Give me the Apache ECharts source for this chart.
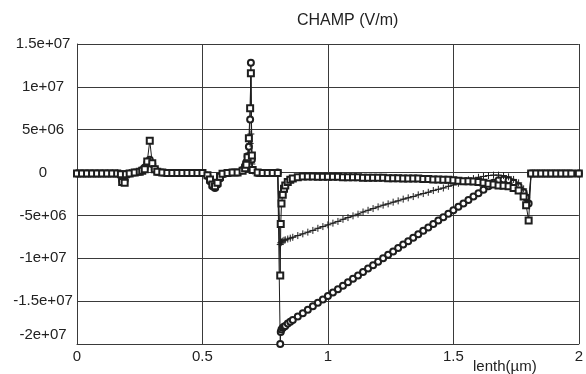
<!DOCTYPE html>
<html>
<head>
<meta charset="utf-8">
<script src="https://cdn.jsdelivr.net/npm/echarts@6/dist/echarts.min.js"></script>
<style>
  html, body { margin: 0; padding: 0; background: #ffffff; }
  #chart { width: 586px; height: 374px; }
</style>
</head>
<body>
<div id="chart"></div>
<script>
// ---- data (x in µm, field values in units of 1e6 V/m) ----
const UNIT = 1e6;
const xs = [
  0, 0.02, 0.04, 0.06, 0.08, 0.10, 0.12, 0.14, 0.16,
  0.175, 0.18, 0.19, 0.195, 0.21, 0.23, 0.25, 0.26, 0.27, 0.28, 0.29, 0.30, 0.31, 0.32, 0.34,
  0.36, 0.38, 0.40, 0.42, 0.44, 0.46, 0.48, 0.50,
  0.52, 0.53, 0.54, 0.55, 0.56, 0.57, 0.58, 0.60, 0.62, 0.64, 0.66,
  0.67, 0.675, 0.68, 0.685, 0.69, 0.693, 0.697, 0.70, 0.72, 0.74, 0.76, 0.78, 0.80,
  0.81, 0.812, 0.815, 0.82, 0.825, 0.83, 0.84, 0.85, 0.86,
  0.88, 0.90, 0.92, 0.94, 0.96, 0.98, 1.00, 1.02, 1.04, 1.06,
  1.08, 1.10, 1.12, 1.14, 1.16, 1.18, 1.20, 1.22, 1.24, 1.26,
  1.28, 1.30, 1.32, 1.34, 1.36, 1.38, 1.40, 1.42, 1.44, 1.46,
  1.48, 1.50, 1.52, 1.54, 1.56, 1.58, 1.60, 1.62, 1.64, 1.66,
  1.68, 1.70, 1.72, 1.74, 1.76, 1.78, 1.79, 1.80,
  1.81, 1.83, 1.85, 1.87, 1.89, 1.91, 1.93, 1.95, 1.97, 2.00
];
const squareVals = [
  -0.1, -0.1, -0.1, -0.1, -0.1, -0.1, -0.1, -0.1, -0.1,
  -0.2, -1.1, -1.2, -0.2, -0.1, 0, 0.1, 0.2, 0.4, 1.3, 3.7, 1.1, 0.4, 0.1, 0,
  -0.05, -0.05, -0.05, -0.05, -0.05, -0.05, -0.05, -0.05,
  -0.3, -0.8, -1.4, -1.6, -1.2, -0.5, -0.15, -0.05, 0, 0, 0.2,
  0.5, 0.9, 1.8, 4.0, 7.5, 11.6, 2.0, 0.3, 0, -0.05, -0.05, -0.05, -0.05,
  -12.0, -6.0, -3.6, -2.6, -1.9, -1.5, -1.1, -0.85, -0.7,
  -0.55, -0.45, -0.45, -0.45, -0.5, -0.5, -0.5, -0.5, -0.5, -0.55,
  -0.55, -0.55, -0.55, -0.6, -0.6, -0.6, -0.6, -0.6, -0.65, -0.65,
  -0.65, -0.7, -0.7, -0.7, -0.7, -0.75, -0.75, -0.8, -0.8, -0.85,
  -0.85, -0.9, -0.95, -1.0, -1.0, -1.05, -1.1, -1.2, -1.3, -1.4,
  -1.5, -1.55, -1.6, -1.8, -2.1, -2.8, -3.8, -5.6,
  -0.1, -0.1, -0.1, -0.1, -0.1, -0.1, -0.1, -0.1, -0.1, -0.1
];
const plusVals = [
  0, 0, 0, 0, 0, 0, 0, 0, 0,
  -0.1, -0.6, -0.6, -0.1, 0, 0, 0.1, 0.2, 0.4, 0.9, 1.2, 0.8, 0.3, 0.1, 0,
  0, 0, 0, 0, 0, 0, 0, 0,
  -0.3, -0.9, -1.5, -1.7, -1.3, -0.6, -0.2, -0.05, 0, 0, 0.2,
  0.4, 0.7, 1.2, 2.2, 3.4, 4.5, 1.0, 0.2, 0, 0, 0, 0, 0,
  -8.4, -8.2, -8.1, -8.0, -7.9, -7.85, -7.75, -7.65, -7.55,
  -7.35, -7.15, -6.95, -6.75, -6.5, -6.3, -6.1, -5.9, -5.7, -5.45,
  -5.25, -5.05, -4.85, -4.6, -4.4, -4.2, -4.0, -3.8, -3.65, -3.45,
  -3.3, -3.1, -2.95, -2.8, -2.6, -2.45, -2.3, -2.1, -1.95, -1.8,
  -1.6, -1.45, -1.25, -1.05, -0.85, -0.7, -0.55, -0.45, -0.35, -0.3,
  -0.3, -0.35, -0.5, -0.8, -1.2, -1.9, -2.6, -3.4,
  -0.1, -0.1, -0.1, -0.1, -0.1, -0.1, -0.1, -0.1, -0.1, -0.1
];
const circleVals = [
  -0.1, -0.1, -0.1, -0.1, -0.1, -0.1, -0.1, -0.1, -0.1,
  -0.2, -0.9, -0.9, -0.2, -0.1, 0, 0.1, 0.3, 0.6, 1.1, 1.5, 1.0, 0.4, 0.1, 0,
  -0.05, -0.05, -0.05, -0.05, -0.05, -0.05, -0.05, -0.05,
  -0.4, -1.0, -1.6, -1.8, -1.4, -0.7, -0.2, -0.05, 0, 0, 0.3,
  0.8, 1.2, 1.9, 3.0, 6.2, 12.8, 1.5, 0.3, -0.05, -0.05, -0.05, -0.05, 0,
  -20.0, -18.6, -18.3, -18.1, -18.0, -17.9, -17.6, -17.4, -17.2,
  -16.8, -16.4, -16.0, -15.6, -15.2, -14.8, -14.4, -14.0, -13.6, -13.2,
  -12.8, -12.4, -12.0, -11.6, -11.2, -10.8, -10.4, -10.0, -9.6, -9.2,
  -8.8, -8.4, -8.0, -7.6, -7.2, -6.8, -6.4, -6.0, -5.6, -5.2,
  -4.8, -4.4, -4.0, -3.6, -3.2, -2.8, -2.4, -2.0, -1.6, -1.2,
  -0.9, -0.8, -0.9, -1.2, -1.6, -2.3, -2.9, -3.6,
  -0.1, -0.1, -0.1, -0.1, -0.1, -0.1, -0.1, -0.1, -0.1, -0.1
];
const yTicks = [-2e7, -1.5e7, -1e7, -5e6, 0, 5e6, 1e7, 1.5e7];
const yTickLabels = ['-2e+07', '-1.5e+07', '-1e+07', '-5e+06', '0', '5e+06', '1e+07', '1.5e+07'];
const xTicks = [0, 0.5, 1, 1.5, 2];
const xTickLabels = ['0', '0.5', '1', '1.5', '2'];
const titleText = 'CHAMP (V/m)';
const xName = 'lenth(\u00b5m)';

// ---- chart ----
const pairs = vals => xs.map((x, i) => [x, vals[i] * UNIT]);
const INK = '#1e1e1e';
const FONT = '"Liberation Sans", Arial, sans-serif';
const plusPath = 'path://M0,5L10,5M5,0L5,10';

const chart = echarts.init(document.getElementById('chart'), null, { renderer: 'canvas' });
const baseSeries = {
  type: 'line',
  showAllSymbol: true,
  symbolSize: 6,
  lineStyle: { color: INK, width: 1 },
  animation: false,
  z: 3
};
chart.setOption({
  animation: false,
  backgroundColor: '#ffffff',
  title: {
    text: titleText,
    left: 297,
    top: 13,
    padding: 0,
    textStyle: { fontFamily: FONT, fontSize: 16, fontWeight: 'normal', color: '#222' }
  },
  grid: { left: 77, right: 6, top: 44, bottom: 29, containLabel: false },
  xAxis: {
    type: 'value',
    min: 0, max: 2, interval: 0.5,
    name: xName,
    nameLocation: 'end',
    nameGap: 0,
    nameTextStyle: { fontFamily: FONT, fontSize: 15, color: '#222', align: 'center',
                     verticalAlign: 'top', padding: [15, 0, 0, -148] },
    axisLine: { onZero: false, lineStyle: { color: '#3a3a3a', width: 1 } },
    axisTick: { show: false },
    axisLabel: {
      margin: 5,
      fontFamily: FONT, fontSize: 15, color: '#222',
      formatter: v => xTickLabels[xTicks.indexOf(Math.round(v * 2) / 2)]
    },
    splitLine: { show: true, lineStyle: { color: '#3a3a3a', width: 1 } }
  },
  yAxis: {
    type: 'value',
    min: -2e7, max: 1.5e7, interval: 5e6,
    axisLine: { show: true, lineStyle: { color: '#3a3a3a', width: 1 } },
    axisTick: { show: false },
    axisLabel: {
      margin: 34,
      align: 'center',
      fontFamily: FONT, fontSize: 15, color: '#222',
      formatter: v => {
        const lab = yTickLabels[yTicks.indexOf(Math.round(v / 5e6) * 5e6)];
        return v <= -2e7 ? '{low|' + lab + '}' : lab;
      },
      rich: { low: { fontFamily: FONT, fontSize: 15, color: '#222', padding: [0, 0, 18, 0] } }
    },
    splitLine: { show: true, lineStyle: { color: '#3a3a3a', width: 1 } }
  },
  series: [
    Object.assign({}, baseSeries, {
      name: 'circle', data: pairs(circleVals), symbol: 'emptyCircle',
      itemStyle: { color: INK, borderColor: INK, borderWidth: 1 }
    }),
    Object.assign({}, baseSeries, {
      name: 'plus', data: pairs(plusVals), symbol: plusPath, symbolSize: 7,
      itemStyle: { color: INK, borderColor: INK, borderWidth: 1 }
    }),
    Object.assign({}, baseSeries, {
      name: 'square', data: pairs(squareVals), symbol: 'emptyRect',
      itemStyle: { color: INK, borderColor: INK, borderWidth: 1 }
    })
  ]
});
</script>
</body>
</html>
